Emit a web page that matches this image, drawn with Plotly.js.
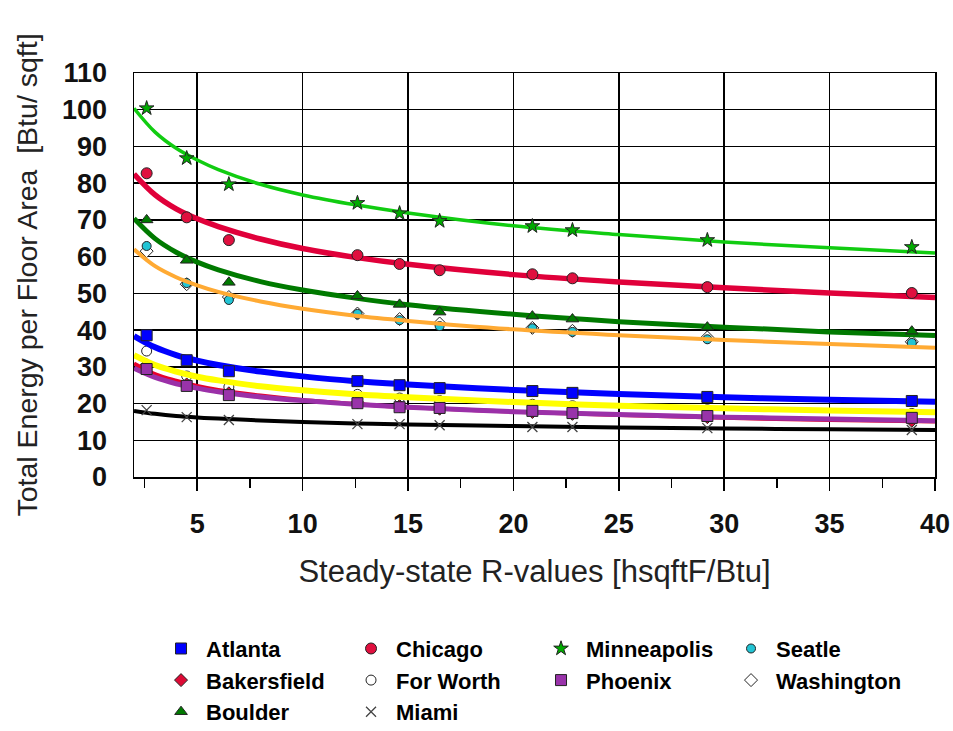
<!DOCTYPE html>
<html>
<head>
<meta charset="utf-8">
<script src="https://cdn.plot.ly/plotly-3.0.1.min.js"></script>
<style>html,body{margin:0;padding:0;background:#fff;}#chart{width:953px;height:731px;}</style>
</head>
<body>
<div id="chart"></div>
<script>
// Measured R-values (x) for each city
const rValues = [2.6, 4.5, 6.5, 12.6, 14.6, 16.5, 20.9, 22.8, 29.2, 38.9];
const atlanta     = [38.6, 31.8, 28.8, 26.1, 25.0, 24.2, 23.4, 22.9, 21.8, 20.7];
const bakersfield = [30.5, 25.2, 22.8, 20.3, 19.3, 18.6, 17.7, 17.2, 16.3, 15.3];
const boulder     = [70.0, 59.0, 53.0, 49.3, 47.0, 44.9, 43.8, 43.0, 40.8, 39.7];
const chicago     = [82.7, 70.7, 64.5, 60.4, 58.0, 56.3, 55.2, 54.1, 51.7, 50.1];
const forWorth    = [34.3, 27.5, 24.5, 22.5, 21.5, 20.8, 19.8, 19.4, 18.3, 17.3];
const miami       = [18.2, 16.3, 15.5, 14.4, 14.4, 14.1, 13.6, 13.6, 13.3, 12.8];
const minneapolis = [100.4, 86.8, 79.7, 74.6, 71.8, 69.7, 68.3, 67.2, 64.5, 62.6];
const phoenix     = [29.4, 24.8, 22.3, 20.1, 19.0, 18.8, 18.0, 17.4, 16.6, 16.1];
const seattle     = [62.9, 52.8, 48.2, 44.4, 42.7, 41.1, 40.5, 39.5, 37.5, 36.5];
const washington  = [61.5, 52.5, 49.0, 44.5, 43.0, 41.8, 40.6, 39.8, 38.0, 36.8];

// Trend curves
const fitR = [2, 3, 4, 5, 6, 8, 10, 12.5, 15, 20, 25, 30, 35, 40];
const fitMinneapolis = [100.4, 93.9, 89.5, 86.3, 83.7, 79.7, 76.8, 74.1, 71.9, 68.4, 66.0, 64.0, 62.4, 61.0];
const fitChicago     = [82.5, 76.8, 73.0, 70.3, 68.2, 64.8, 62.2, 59.8, 57.9, 55.1, 53.1, 51.5, 50.1, 48.9];
const fitBoulder     = [70.4, 64.9, 61.2, 58.5, 56.4, 53.2, 50.9, 48.7, 46.9, 44.3, 42.3, 40.8, 39.5, 38.5];
const fitWashington  = [62.0, 57.4, 54.4, 52.2, 50.4, 47.8, 45.8, 43.9, 42.5, 40.2, 38.6, 37.3, 36.2, 35.2];
const fitAtlanta     = [38.4, 35.3, 33.2, 31.7, 30.5, 28.7, 27.4, 26.1, 25.2, 23.7, 22.6, 21.7, 21.0, 20.5];
const fitForWorth    = [33.2, 30.5, 28.7, 27.3, 26.3, 24.7, 23.6, 22.5, 21.7, 20.4, 19.4, 18.7, 18.1, 17.6];
const fitBakersfield = [30.9, 28.0, 26.2, 24.8, 23.7, 22.2, 21.0, 19.9, 19.0, 17.8, 16.9, 16.1, 15.5, 15.1];
const fitPhoenix     = [29.6, 27.1, 25.4, 24.2, 23.2, 21.8, 20.8, 19.8, 19.0, 17.8, 17.0, 16.3, 15.8, 15.3];
const fitMiami       = [18.0, 17.2, 16.6, 16.2, 15.9, 15.4, 15.0, 14.6, 14.3, 13.9, 13.5, 13.2, 13.0, 12.8];

const FONT = '"Liberation Sans", Arial, sans-serif';
const edge = {color: '#222', width: 1};

// rank = position in the legend, filled row by row:
// Atlanta, Chicago, Minneapolis, Seatle / Bakersfield, For Worth, Phoenix, Washington / Boulder, Miami
function pts(name, y, symbol, color, size, rank) {
  return {
    type: 'scatter', mode: 'markers', name: name, x: rValues, y: y, legendrank: rank,
    marker: {symbol: symbol, color: color, size: size, line: edge}
  };
}
function fit(y, color, width) {
  return {type: 'scatter', mode: 'lines', x: fitR, y: y, showlegend: false, hoverinfo: 'skip',
          line: {color: color, width: width, shape: 'spline', smoothing: 1}};
}

const traces = [
  pts('Washington', washington, 'diamond', '#ffffff', 10, 8),
  pts('For Worth', forWorth, 'circle', '#ffffff', 10, 6),
  pts('Bakersfield', bakersfield, 'diamond', '#dd0a35', 10, 5),
  pts('Seatle', seattle, 'circle', '#22c4d4', 9, 4),
  fit(fitMiami, '#000000', 4),
  fit(fitBakersfield, '#e8002c', 4),
  fit(fitPhoenix, '#9b30a8', 5),
  fit(fitForWorth, '#ffff00', 6),
  fit(fitAtlanta, '#0000ff', 6),
  fit(fitWashington, '#ffaa33', 4),
  fit(fitBoulder, '#007a00', 5),
  fit(fitChicago, '#e0003a', 5.5),
  fit(fitMinneapolis, '#11cc11', 3.5),
  pts('Atlanta', atlanta, 'square', '#0000ff', 11, 1),
  pts('Chicago', chicago, 'circle', '#e0103f', 11, 2),
  pts('Minneapolis', minneapolis, 'star', '#00aa00', 11, 3),
  pts('Phoenix', phoenix, 'square', '#9933aa', 11, 7),
  pts('Boulder', boulder, 'triangle-up', '#007a00', 11, 9),
  {type: 'scatter', mode: 'markers', name: 'Miami', x: rValues, y: miami, legendrank: 10,
   marker: {symbol: 'x-thin-open', size: 10, color: '#444', line: {color: '#444', width: 1.3}}}
];

const layout = {
  width: 953, height: 731,
  paper_bgcolor: '#ffffff', plot_bgcolor: '#ffffff',
  margin: {l: 134, r: 18, t: 73, b: 254, pad: 0, autoexpand: false},
  font: {family: FONT, color: '#000'},
  showlegend: true,
  xaxis: {
    range: [2, 40], tick0: 0, dtick: 5,
    showgrid: true, gridcolor: '#000', gridwidth: 1.5,
    showline: true, linecolor: '#000', linewidth: 1.5, mirror: true,
    ticks: 'outside', ticklen: 12, tickwidth: 1.5, tickcolor: '#000',
    minor: {dtick: 2.5, tick0: 0, ticks: 'outside', ticklen: 9, tickwidth: 1.5, tickcolor: '#000', showgrid: false},
    ticklabelstandoff: 10,
    tickfont: {family: FONT, size: 27, weight: 'bold', color: '#111'},
    zeroline: false,
    title: {text: 'Steady-state R-values [hsqftF/Btu]', font: {family: FONT, size: 31, color: '#222'}, standoff: 22}
  },
  yaxis: {
    range: [0, 110], tick0: 0, dtick: 10,
    showgrid: true, gridcolor: '#000', gridwidth: 1.5,
    showline: true, linecolor: '#000', linewidth: 1.5, mirror: true,
    ticks: '', ticklabelstandoff: 20,
    tickfont: {family: FONT, size: 27, weight: 'bold', color: '#111'},
    zeroline: false,
    title: {text: 'Total Energy per Floor Area  [Btu/ sqft]', font: {family: FONT, size: 28.5, color: '#222'}, standoff: 16}
  },
  legend: {
    orientation: 'h', x: 0.0275, xanchor: 'left', y: -0.373, yanchor: 'top',
    entrywidth: 135, entrywidthmode: 'pixels', itemwidth: 40,
    font: {family: FONT, size: 22, weight: 'bold', color: '#000'},
    bgcolor: 'rgba(0,0,0,0)', borderwidth: 0, traceorder: 'normal'
  }
};

Plotly.newPlot('chart', traces, layout, {displayModeBar: false, staticPlot: true});
</script>
</body>
</html>
